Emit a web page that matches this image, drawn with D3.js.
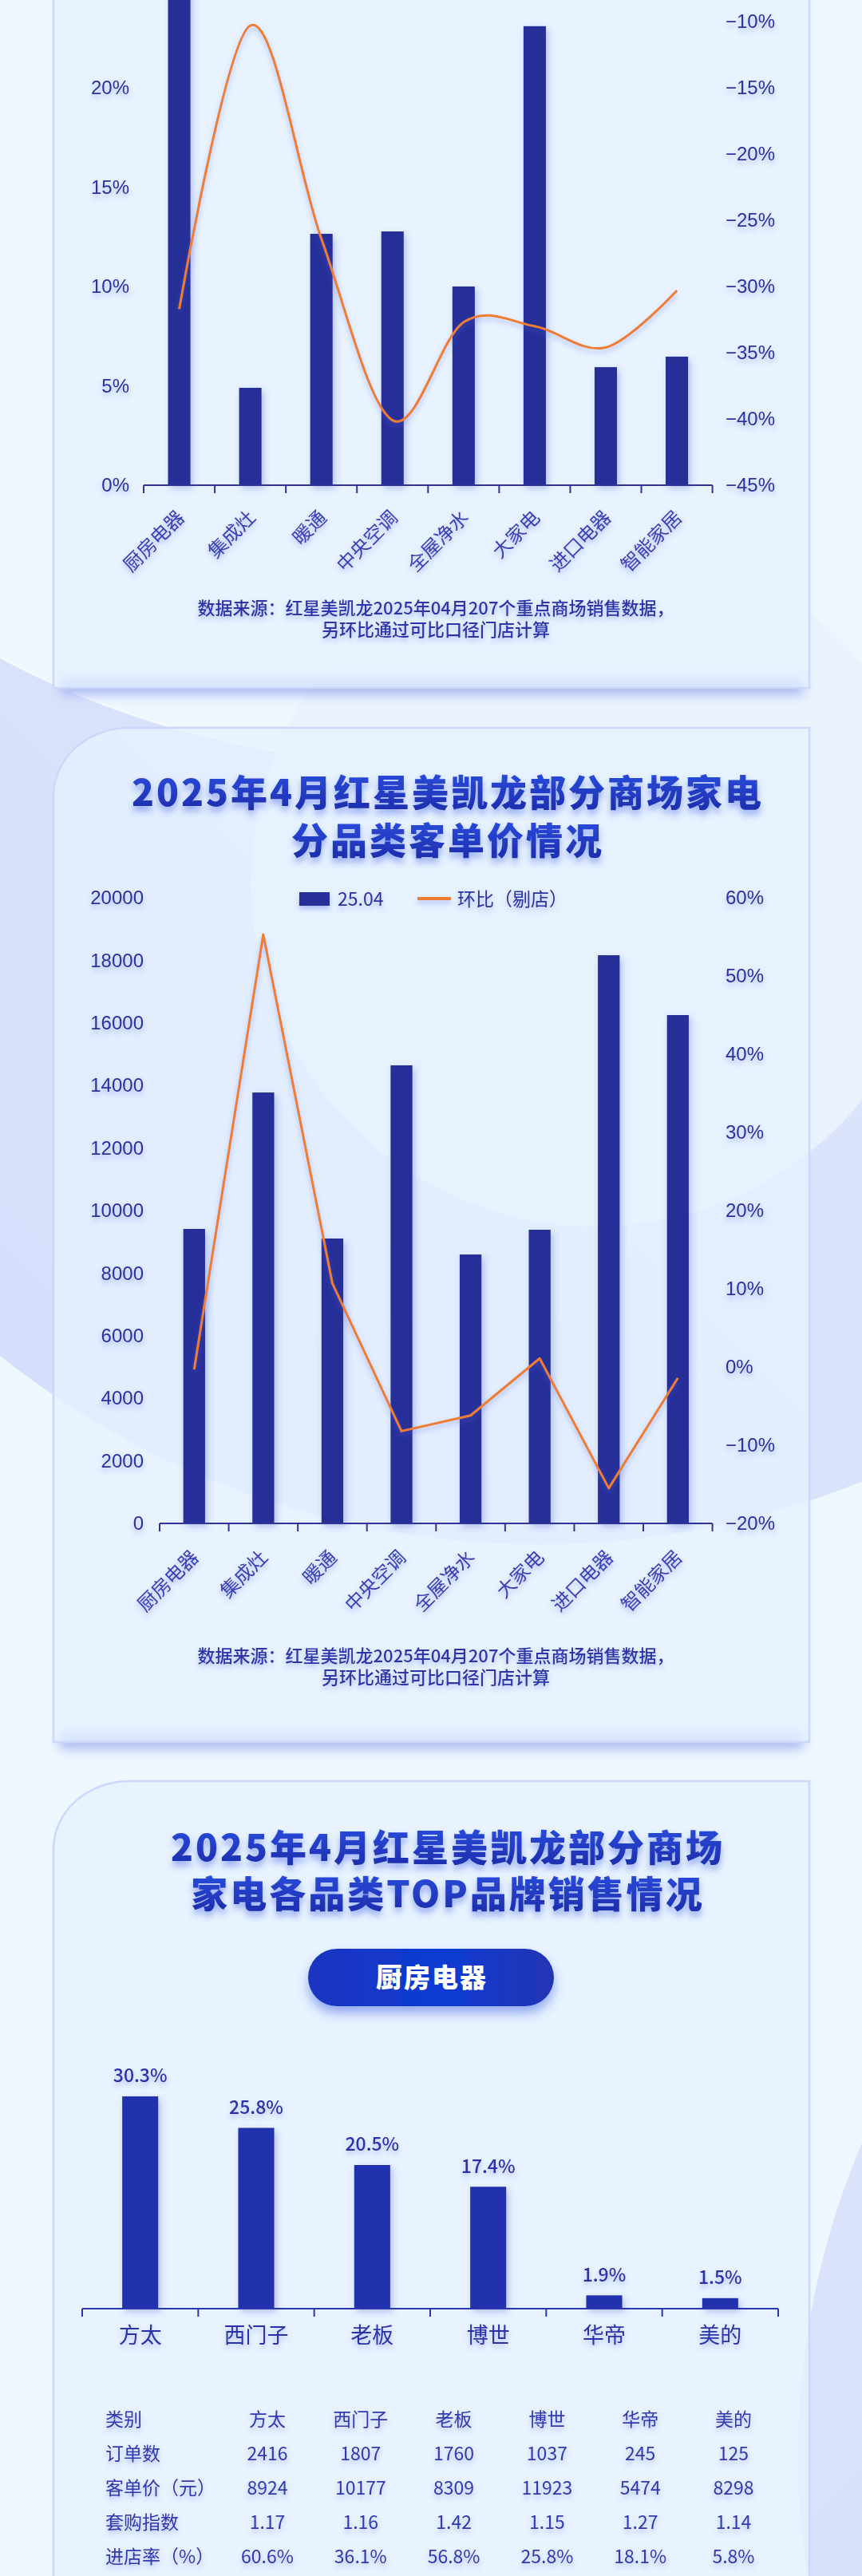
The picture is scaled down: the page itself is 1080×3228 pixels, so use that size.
<!DOCTYPE html>
<html>
<head>
<meta charset="utf-8">
<style>
  html, body { margin: 0; padding: 0; background: #eef6fe; }
  svg { display: block; font-family: "Noto Sans CJK SC", "Noto Sans", sans-serif; }
</style>
</head>
<body>
<script src="https://cdn.jsdelivr.net/npm/d3@7"></script>
<script>
  const width = 1080
  const height = 3228

  const barColor = "#252d97"
  const lineColor = "#ee7d32"
  const inkColor = "#2b309c"

  // ---- chart 1: category share (bars, left) + month-on-month (line, right)
  const categories = ["厨房电器", "集成灶", "暖通", "中央空调", "全屋净水", "大家电", "进口电器", "智能家居"]
  const shareValues = [0.271, 0.049, 0.1265, 0.1277, 0.100, 0.231, 0.0594, 0.0647]
  const shareMoM = [-0.317, -0.103, -0.264, -0.401, -0.327, -0.330, -0.346, -0.303]
  // only the ticks still visible below the page's top edge
  const shareLeftTicks = [0, 0.05, 0.10, 0.15, 0.20]
  const shareRightTicks = [-0.45, -0.40, -0.35, -0.30, -0.25, -0.20, -0.15, -0.10]

  // ---- chart 2: average order value
  const priceTitle = ["2025年4月红星美凯龙部分商场家电", "分品类客单价情况"]
  const priceValues = [9413, 13775, 9107, 14643, 8597, 9388, 18163, 16250]
  const priceMoM = [-0.003, 0.553, 0.107, -0.082, -0.062, 0.011, -0.155, -0.014]
  const priceLeftTicks = [0, 2000, 4000, 6000, 8000, 10000, 12000, 14000, 16000, 18000, 20000]
  const priceRightTicks = [-0.2, -0.1, 0, 0.1, 0.2, 0.3, 0.4, 0.5, 0.6]
  const legendLabels = ["25.04", "环比（剔店）"]

  const sourceNote = ["数据来源：红星美凯龙2025年04月207个重点商场销售数据，", "另环比通过可比口径门店计算"]

  // ---- chart 3: top brands, kitchen appliances
  const brandTitle = ["2025年4月红星美凯龙部分商场", "家电各品类TOP品牌销售情况"]
  const brandGroup = "厨房电器"
  const brands = ["方太", "西门子", "老板", "博世", "华帝", "美的"]
  const brandShare = [0.303, 0.258, 0.205, 0.174, 0.019, 0.015]
  const tableHeader = "类别"
  const tableRowLabels = ["订单数", "客单价（元）", "套购指数", "进店率（%）"]
  const orders = [2416, 1807, 1760, 1037, 245, 125]
  const avgPrice = [8924, 10177, 8309, 11923, 5474, 8298]
  const bundleIndex = [1.17, 1.16, 1.42, 1.15, 1.27, 1.14]
  const visitRate = [0.606, 0.361, 0.568, 0.258, 0.181, 0.058]

  const svg = d3.select("body").append("svg")
    .attr("width", width)
    .attr("height", height)

  const defs = svg.append("defs")

  function addShadow(id, dx, dy, sd, color, op) {
    defs.append("filter").attr("id", id)
      .attr("x", "-30%").attr("y", "-60%").attr("width", "160%").attr("height", "240%")
      .append("feDropShadow")
      .attr("dx", dx).attr("dy", dy).attr("stdDeviation", sd)
      .attr("flood-color", color).attr("flood-opacity", op)
  }
  addShadow("textGlow", 0, 4, 3, "#5468e0", 0.4)
  addShadow("titleGlow", 0, 6, 4, "#2f4fe0", 0.45)
  addShadow("barShadow", 3, 4, 4, "#3a4ad0", 0.3)
  addShadow("pillShadow", 0, 9, 7, "#2f4fe0", 0.45)

  defs.append("filter").attr("id", "blur8")
    .attr("x", "-10%").attr("y", "-100%").attr("width", "120%").attr("height", "300%")
    .append("feGaussianBlur").attr("stdDeviation", 7)

  const lav = defs.append("linearGradient").attr("id", "lavGrad")
    .attr("x1", 0).attr("y1", 1).attr("x2", 1).attr("y2", 0)
  lav.append("stop").attr("offset", 0).attr("stop-color", "#d2dcfa")
  lav.append("stop").attr("offset", 1).attr("stop-color", "#e5edfd")

  const lav2 = defs.append("linearGradient").attr("id", "lavGrad2")
    .attr("x1", 0).attr("y1", 0).attr("x2", 1).attr("y2", 1)
  lav2.append("stop").attr("offset", 0).attr("stop-color", "#dfe7fc")
  lav2.append("stop").attr("offset", 1).attr("stop-color", "#c8d2f8")

  const titleGrad = defs.append("linearGradient").attr("id", "titleGrad")
    .attr("x1", 0).attr("y1", 0).attr("x2", 0).attr("y2", 1)
  titleGrad.append("stop").attr("offset", 0).attr("stop-color", "#2d52e6")
  titleGrad.append("stop").attr("offset", 1).attr("stop-color", "#1b2aa6")

  const pillGrad = defs.append("linearGradient").attr("id", "pillGrad")
    .attr("x1", 0).attr("y1", 0).attr("x2", 1).attr("y2", 0)
  pillGrad.append("stop").attr("offset", 0).attr("stop-color", "#1b34bf")
  pillGrad.append("stop").attr("offset", 0.55).attr("stop-color", "#0d3bd3")
  pillGrad.append("stop").attr("offset", 1).attr("stop-color", "#2334b2")

  // ---- background decoration
  const bg = svg.append("g")
  bg.append("rect").attr("width", width).attr("height", height).attr("fill", "#eef6fe")
  bg.append("circle").attr("cx", 675).attr("cy", 852).attr("r", 1083).attr("fill", "url(#lavGrad)")
  bg.append("ellipse").attr("cx", 560).attr("cy", 200).attr("rx", 980).attr("ry", 760)
    .attr("fill", "#eef6fe").attr("stroke", "#ffffff").attr("stroke-opacity", 0.7).attr("stroke-width", 2)
  bg.append("circle").attr("cx", 746).attr("cy", 1105).attr("r", 432).attr("fill", "#eaf2fe")
  bg.append("circle").attr("cx", 2000).attr("cy", 3077).attr("r", 1000).attr("fill", "url(#lavGrad2)")

  // ---- panels
  function panel(x0, y0, x1, y1, round) {
    svg.append("rect")
      .attr("x", x0 + 8).attr("y", y1 - 12)
      .attr("width", x1 - x0 - 16).attr("height", 20)
      .attr("fill", "#a7b7f1")
      .attr("filter", "url(#blur8)")
    const rx = round ? 95 : 0
    const ry = round ? 85 : 0
    svg.append("path")
      .attr("d", `M${x0},${y1} L${x0},${y0 + ry} A${rx},${ry} 0 0 1 ${x0 + rx},${y0} L${x1},${y0} L${x1},${y1} Z`)
      .attr("fill", "#e6f1ff")
      .attr("fill-opacity", 0.75)
      .attr("stroke", "#cbd8fb")
      .attr("stroke-width", 2.5)
  }
  panel(67, -200, 1014, 862, false)
  panel(67, 912, 1014, 2183, true)
  panel(67, 2232, 1014, 3400, true)

  function title(lines, y0, gap) {
    svg.append("g").attr("filter", "url(#titleGlow)")
      .selectAll("text").data(lines).join("text")
      .attr("x", 561).attr("y", (d, i) => y0 + i * gap)
      .attr("dy", "0.36em")
      .attr("text-anchor", "middle")
      .attr("font-size", 46).attr("font-weight", 900)
      .attr("letter-spacing", 3)
      .attr("fill", "url(#titleGrad)")
      .text(d => d)
  }

  function note(y0) {
    svg.append("g").attr("filter", "url(#textGlow)")
      .selectAll("text").data(sourceNote).join("text")
      .attr("x", 546).attr("y", (d, i) => y0 + i * 27)
      .attr("dy", "0.35em")
      .attr("text-anchor", "middle")
      .attr("font-size", 22).attr("font-weight", 500)
      .attr("fill", "#2f36a6")
      .text(d => d)
  }

  // bottom category axis with ticks at band edges (excel style)
  function bandAxis(g, x, y, color) {
    const edges = x.domain().map(d => x(d)).concat([x.range()[1]])
    g.append("line")
      .attr("x1", x.range()[0]).attr("x2", x.range()[1])
      .attr("y1", y).attr("y2", y)
      .attr("stroke", color).attr("stroke-width", 2.2)
    g.selectAll("line.tick").data(edges).join("line")
      .attr("class", "tick")
      .attr("x1", d => d).attr("x2", d => d)
      .attr("y1", y).attr("y2", y + 10)
      .attr("stroke", color).attr("stroke-width", 2)
  }

  function comboChart(o) {
    const g = svg.append("g")
    const x = d3.scaleBand().domain(categories).range(o.xRange)
    const yL = d3.scaleLinear().domain(o.leftDomain).range([o.baseY, o.topY])
    const yR = d3.scaleLinear().domain(o.rightDomain).range([o.baseY, o.topY])
    const bw = x.bandwidth() * 0.315
    const cx = i => x(categories[i]) + x.bandwidth() / 2

    g.append("g").attr("filter", "url(#barShadow)")
      .selectAll("rect").data(o.bars).join("rect")
      .attr("x", (d, i) => cx(i) - bw / 2)
      .attr("y", d => yL(d))
      .attr("width", bw)
      .attr("height", d => o.baseY - yL(d))
      .attr("fill", barColor)

    bandAxis(g, x, o.baseY, "#2f3497")

    const line = d3.line()
      .x((d, i) => cx(i))
      .y(d => yR(d))
      .curve(o.curve)
    g.append("path")
      .datum(o.line)
      .attr("d", line)
      .attr("fill", "none")
      .attr("stroke", lineColor)
      .attr("stroke-width", 3)
      .attr("stroke-linejoin", "round")
      .attr("filter", "url(#textGlow)")

    const left = g.append("g")
      .attr("transform", `translate(${o.leftX},0)`)
      .attr("filter", "url(#textGlow)")
      .call(d3.axisLeft(yL).tickValues(o.leftTicks).tickFormat(o.leftFormat).tickSize(0).tickPadding(0))
    const right = g.append("g")
      .attr("transform", `translate(909,0)`)
      .attr("filter", "url(#textGlow)")
      .call(d3.axisRight(yR).tickValues(o.rightTicks).tickFormat(d3.format(".0%")).tickSize(0).tickPadding(0))
    for (const ax of [left, right]) {
      ax.select(".domain").remove()
      ax.selectAll("text")
        .attr("font-family", null)
        .attr("font-size", 24)
        .attr("fill", inkColor)
    }

    g.append("g").attr("filter", "url(#textGlow)")
      .selectAll("text").data(categories).join("text")
      .attr("transform", (d, i) => `translate(${cx(i) + o.labelDx},${o.baseY + o.labelDy}) rotate(-45)`)
      .attr("text-anchor", "end")
      .attr("font-size", 24)
      .attr("fill", "#3b41b3")
      .text(d => d)

    return { x, yL, yR }
  }

  // ---- chart 1 (top clipped by page edge)
  comboChart({
    xRange: [180, 892.6], baseY: 608, topY: -139,
    leftDomain: [0, 0.30], rightDomain: [-0.45, 0],
    bars: shareValues, line: shareMoM,
    leftTicks: shareLeftTicks, rightTicks: shareRightTicks,
    leftFormat: d3.format(".0%"), leftX: 162,
    curve: d3.curveCardinal.tension(0),
    labelDx: 8, labelDy: 42
  })
  note(762)

  // ---- chart 2
  title(priceTitle, 993, 60)
  comboChart({
    xRange: [200, 892.6], baseY: 1909, topY: 1125,
    leftDomain: [0, 20000], rightDomain: [-0.2, 0.6],
    bars: priceValues, line: priceMoM,
    leftTicks: priceLeftTicks, rightTicks: priceRightTicks,
    leftFormat: d3.format("d"), leftX: 180,
    curve: d3.curveLinear,
    labelDx: 7, labelDy: 44
  })

  // legend
  const legend = svg.append("g").attr("filter", "url(#textGlow)")
  legend.append("rect").attr("x", 375).attr("y", 1118).attr("width", 38).attr("height", 17).attr("fill", barColor)
  legend.append("line").attr("x1", 523).attr("x2", 565).attr("y1", 1126).attr("y2", 1126)
    .attr("stroke", lineColor).attr("stroke-width", 4)
  legend.selectAll("text").data(legendLabels).join("text")
    .attr("x", (d, i) => i === 0 ? 423 : 573)
    .attr("y", 1127).attr("dy", "0.35em")
    .attr("font-size", 23)
    .attr("fill", inkColor)
    .text(d => d)
  note(2075)

  // ---- chart 3
  title(brandTitle, 2315, 58)

  const pill = svg.append("g")
  pill.append("rect")
    .attr("x", 386).attr("y", 2442).attr("width", 308).attr("height", 72).attr("rx", 36)
    .attr("fill", "url(#pillGrad)")
    .attr("filter", "url(#pillShadow)")
  pill.append("text")
    .attr("x", 541).attr("y", 2478).attr("dy", "0.36em")
    .attr("text-anchor", "middle")
    .attr("font-size", 33).attr("font-weight", 900)
    .attr("letter-spacing", 2)
    .attr("fill", "#ffffff")
    .text(brandGroup)

  const x3 = d3.scaleBand().domain(brands).range([103, 975])
  const y3 = d3.scaleLinear().domain([0, 0.35]).range([2893, 2893 - 0.35 * 878])
  const bw3 = x3.bandwidth() * 0.31
  const g3 = svg.append("g")
  g3.append("g").attr("filter", "url(#barShadow)")
    .selectAll("rect").data(brandShare).join("rect")
    .attr("x", (d, i) => x3(brands[i]) + (x3.bandwidth() - bw3) / 2)
    .attr("y", d => y3(d))
    .attr("width", bw3)
    .attr("height", d => y3(0) - y3(d))
    .attr("fill", "#2130ae")
  bandAxis(g3, x3, 2893, "#2a36b0")

  const pct1 = d3.format(".1%")
  g3.append("g").attr("filter", "url(#textGlow)")
    .selectAll("text").data(brandShare).join("text")
    .attr("x", (d, i) => x3(brands[i]) + x3.bandwidth() / 2)
    .attr("y", d => y3(d) - 26).attr("dy", "0.36em")
    .attr("text-anchor", "middle")
    .attr("font-size", 23).attr("font-weight", 500)
    .attr("fill", "#2a31a6")
    .text(d => pct1(d))
  g3.append("g").attr("filter", "url(#textGlow)")
    .selectAll("text").data(brands).join("text")
    .attr("x", d => x3(d) + x3.bandwidth() / 2)
    .attr("y", 2926).attr("dy", "0.36em")
    .attr("text-anchor", "middle")
    .attr("font-size", 27).attr("font-weight", 400)
    .attr("fill", "#2c33a8")
    .text(d => d)

  // ---- table under the bars
  const rowNames = [tableHeader].concat(tableRowLabels)
  const rowY = d3.scalePoint().domain(rowNames).range([3032, 3204])
  const colX = d3.scalePoint().domain(brands).range([335, 919])
  const rows = [
    brands,
    orders.map(d3.format("d")),
    avgPrice.map(d3.format("d")),
    bundleIndex.map(d3.format(".2f")),
    visitRate.map(pct1)
  ]
  const table = svg.append("g").attr("filter", "url(#textGlow)")
    .attr("font-size", 23).attr("fill", "#3038ad")
  table.selectAll("text.rowname").data(rowNames).join("text")
    .attr("class", "rowname")
    .attr("x", 132).attr("y", d => rowY(d)).attr("dy", "0.36em")
    .text(d => d)
  rows.forEach((cells, r) => {
    table.selectAll(`text.r${r}`).data(cells).join("text")
      .attr("class", `r${r}`)
      .attr("x", (d, i) => colX(brands[i]))
      .attr("y", rowY(rowNames[r])).attr("dy", "0.36em")
      .attr("text-anchor", "middle")
      .text(d => d)
  })
</script>
</body>
</html>
